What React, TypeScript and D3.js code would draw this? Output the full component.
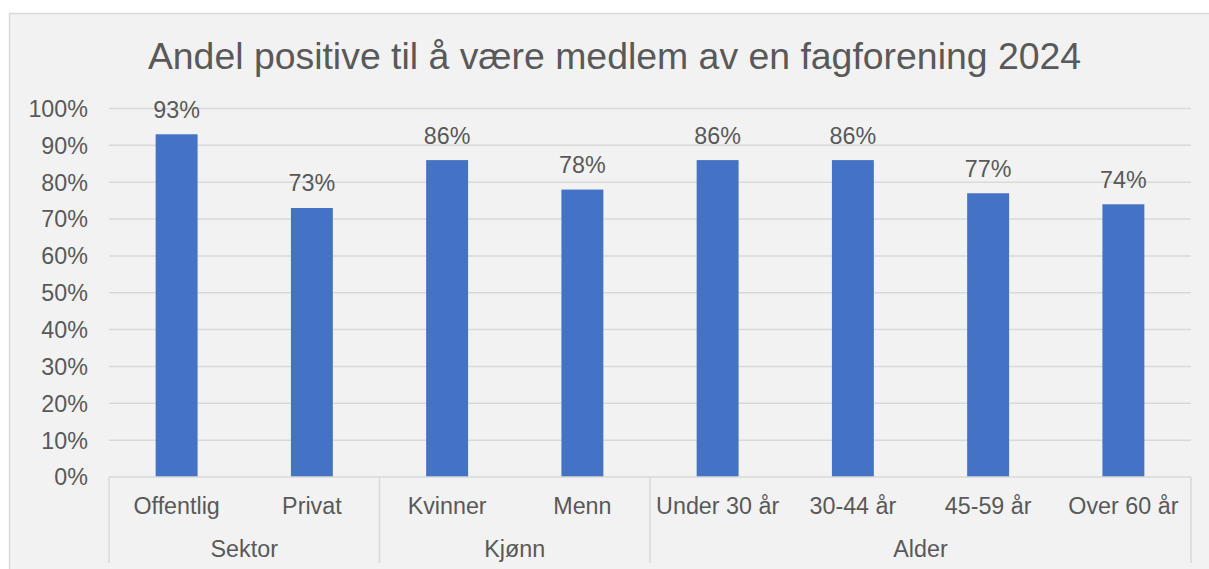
import React from "react";
import * as d3 from "d3";

const title = "Andel positive til å være medlem av en fagforening 2024";
const categories = ["Offentlig", "Privat", "Kvinner", "Menn", "Under 30 år", "30-44 år", "45-59 år", "Over 60 år"];
const groups = ["Sektor", "Sektor", "Kjønn", "Kjønn", "Alder", "Alder", "Alder", "Alder"];
const values = [0.93, 0.73, 0.86, 0.78, 0.86, 0.86, 0.77, 0.74];
const yTicks = [0, 0.1, 0.2, 0.3, 0.4, 0.5, 0.6, 0.7, 0.8, 0.9, 1.0];

const W = 1209;
const H = 569;
const FONT = "'Liberation Sans', Arial, sans-serif";
const TEXT = "#595959";
const GRID = "#d9d9d9";
const BAR = "#4472c4";
const FS = 23.3;

export default function App() {
  const left = 109;
  const right = 1191;
  const y0 = 477;
  const yTop = 108.5;

  const x = d3.scaleBand<string>().domain(categories).range([left, right]).paddingInner(0.69).paddingOuter(0.345);
  const y = d3.scaleLinear().domain([0, 1]).range([y0, yTop]);
  const fmt = d3.format(".0%");

  const groupNames: string[] = [];
  groups.forEach((g) => { if (!groupNames.includes(g)) groupNames.push(g); });
  const step = x.step();
  const groupExtents = groupNames.map((g) => {
    const idx = groups.map((gg, i) => (gg === g ? i : -1)).filter((i) => i >= 0);
    const x0 = left + idx[0] * step;
    const x1 = left + (idx[idx.length - 1] + 1) * step;
    return { g, x0, x1 };
  });
  const separators = [left, ...groupExtents.map((e) => e.x1)];

  return (
    <div style={{ position: "absolute", left: 0, top: 0 }}>
      <svg width={W} height={H} style={{ display: "block" }}>
        <rect x={0} y={0} width={W} height={H} fill="#ffffff" />
        <rect x={9.5} y={13.5} width={W} height={H} fill="#f2f2f2" stroke={GRID} strokeWidth={1.5} />
        <text x={614.5} y={69} textAnchor="middle" fontFamily={FONT} fontSize={37.4} fill={TEXT}>
          {title}
        </text>
        {yTicks.map((t) => (
          <g key={t}>
            {t > 0 && (
              <line x1={left} x2={right} y1={y(t)} y2={y(t)} stroke={GRID} strokeWidth={1.5} />
            )}
            <text x={88} y={y(t)} dy="0.36em" textAnchor="end" fontFamily={FONT} fontSize={FS} fill={TEXT}>
              {fmt(t)}
            </text>
          </g>
        ))}
        {categories.map((c, i) => (
          <g key={c}>
            <rect x={x(c)} y={y(values[i])} width={x.bandwidth()} height={y0 - y(values[i])} fill={BAR} />
            <text x={(x(c) as number) + x.bandwidth() / 2} y={y(values[i]) - 16.5} textAnchor="middle" fontFamily={FONT} fontSize={FS} fill={TEXT}>
              {fmt(values[i])}
            </text>
            <text x={(x(c) as number) + x.bandwidth() / 2} y={514} textAnchor="middle" fontFamily={FONT} fontSize={FS} fill={TEXT}>
              {c}
            </text>
          </g>
        ))}
        <line x1={left} x2={right} y1={y0} y2={y0} stroke={GRID} strokeWidth={1.5} />
        {separators.map((sx, i) => (
          <line key={i} x1={sx} x2={sx} y1={y0} y2={563} stroke={GRID} strokeWidth={1.5} />
        ))}
        {groupExtents.map((e) => (
          <text key={e.g} x={(e.x0 + e.x1) / 2} y={557} textAnchor="middle" fontFamily={FONT} fontSize={FS} fill={TEXT}>
            {e.g}
          </text>
        ))}
      </svg>
    </div>
  );
}
